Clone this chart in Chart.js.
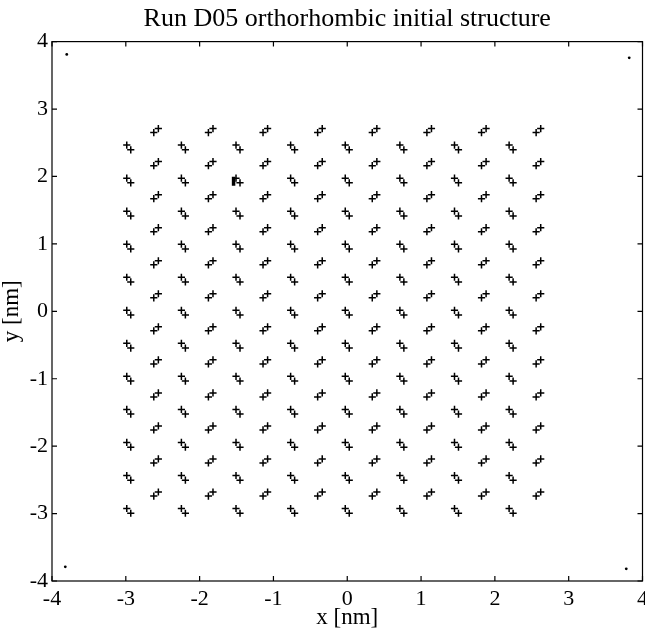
<!DOCTYPE html>
<html>
<head>
<meta charset="utf-8">
<script src="https://cdn.jsdelivr.net/npm/chart.js@4.4.0/dist/chart.umd.min.js"></script>
<style>
  html, body { margin: 0; padding: 0; background: #fff; overflow: hidden; }
  /* a little wider than the window: the right axis sits on the edge, as in the scan */
  #wrap { width: 653px; height: 635px; position: relative; }
</style>
</head>
<body>
<div id="wrap"><canvas id="chart"></canvas></div>
<script>
const xTicks = [-4, -3, -2, -1, 0, 1, 2, 3, 4];
const yTicks = [-4, -3, -2, -1, 0, 1, 2, 3, 4];

// molecule centres, two orientations (nm)
const colsA = [-2.96, -2.22, -1.48, -0.74, 0.00, 0.74, 1.48, 2.22];
const rowsA = [2.43, 1.94, 1.45, 0.96, 0.47, -0.02, -0.51, -1.00, -1.49, -1.98, -2.47, -2.96];
const colsB = [-2.59, -1.85, -1.11, -0.37, 0.37, 1.11, 1.85, 2.59];
const rowsB = [2.68, 2.19, 1.70, 1.21, 0.72, 0.23, -0.26, -0.75, -1.24, -1.73, -2.22, -2.71];

// the two atoms of each molecule, offset from its centre
const atomsA = [[-0.027, 0.035], [0.027, -0.035]];
const atomsB = [[-0.031, -0.030], [0.031, 0.030]];

// box corner markers
const cornerX = [-3.80, 3.82, -3.82, 3.78];
const cornerY = [3.81, 3.76, -3.79, -3.82];

// stray mark
const blobX = [-1.54];
const blobY = [1.93];

const serif = 'Liberation Serif';

function lattice(cols, rows, atoms) {
    const pts = [];
    rows.forEach(y => {
        cols.forEach(x => {
            atoms.forEach(a => pts.push({ x: x + a[0], y: y + a[1] }));
        });
    });
    return pts;
}

const framePlugin = {
    id: 'frame',
    afterDatasetsDraw(chart) {
        const { ctx, chartArea: a, scales: { x, y } } = chart;
        ctx.save();
        ctx.strokeStyle = '#000';
        ctx.lineWidth = 1.2;
        ctx.strokeRect(a.left, a.top, a.right - a.left, a.bottom - a.top);
        ctx.beginPath();
        xTicks.forEach(v => {
            const px = x.getPixelForValue(v);
            ctx.moveTo(px, a.bottom); ctx.lineTo(px, a.bottom - 5);
            ctx.moveTo(px, a.top); ctx.lineTo(px, a.top + 5);
        });
        yTicks.forEach(v => {
            const py = y.getPixelForValue(v);
            ctx.moveTo(a.left, py); ctx.lineTo(a.left + 5, py);
            ctx.moveTo(a.right, py); ctx.lineTo(a.right - 5, py);
        });
        ctx.stroke();
        ctx.restore();
    }
};

const crossStyle = {
    pointStyle: 'cross',
    pointRadius: 3.6,
    pointBorderWidth: 1.5,
    borderColor: '#000',
    backgroundColor: '#000',
    showLine: false
};

new Chart(document.getElementById('chart'), {
    type: 'scatter',
    data: {
        datasets: [
            Object.assign({ label: 'A', data: lattice(colsA, rowsA, atomsA) }, crossStyle),
            Object.assign({ label: 'B', data: lattice(colsB, rowsB, atomsB) }, crossStyle),
            {
                label: 'corners',
                data: cornerX.map((v, i) => ({ x: v, y: cornerY[i] })),
                pointStyle: 'circle',
                pointRadius: 1.4,
                pointBorderWidth: 0,
                backgroundColor: '#000',
                borderColor: '#000'
            },
            {
                label: 'mark',
                data: blobX.map((v, i) => ({ x: v, y: blobY[i] })),
                pointStyle: 'line',
                pointRotation: 90,
                pointRadius: 4.5,
                pointBorderWidth: 3.5,
                borderColor: '#000'
            }
        ]
    },
    options: {
        responsive: true,
        maintainAspectRatio: false,
        animation: false,
        layout: { padding: { right: 1 } },
        plugins: {
            legend: { display: false },
            tooltip: { enabled: false },
            title: {
                display: true,
                text: 'Run D05 orthorhombic initial structure',
                color: '#000',
                fullSize: false,
                font: { family: serif, size: 26, weight: 'normal' },
                padding: { top: 4, bottom: 6.4 }
            }
        },
        scales: {
            x: {
                type: 'linear',
                min: -4,
                max: 4,
                afterBuildTicks: s => { s.ticks = xTicks.map(v => ({ value: v })); },
                afterFit: s => { s.height = 54; },
                grid: { display: false, drawTicks: false },
                border: { display: false },
                ticks: { color: '#000', padding: 5, font: { family: serif, size: 22 } },
                title: {
                    display: true,
                    text: 'x [nm]',
                    color: '#000',
                    font: { family: serif, size: 23 },
                    padding: { top: 0, bottom: 3 }
                }
            },
            y: {
                type: 'linear',
                min: -4,
                max: 4,
                afterBuildTicks: s => { s.ticks = yTicks.map(v => ({ value: v })); },
                afterFit: s => { s.width = 52; },
                grid: { display: false, drawTicks: false },
                border: { display: false },
                ticks: { color: '#000', padding: 4, font: { family: serif, size: 22 } },
                title: {
                    display: true,
                    text: 'y [nm]',
                    color: '#000',
                    font: { family: serif, size: 23, lineHeight: 1 },
                    padding: { top: 0, bottom: 0 }
                }
            }
        }
    },
    plugins: [framePlugin]
});
</script>
</body>
</html>
